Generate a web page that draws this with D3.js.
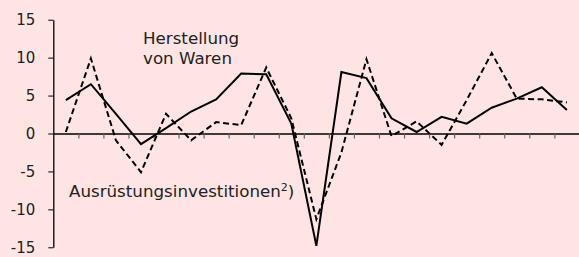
<!DOCTYPE html>
<html>
<head>
<meta charset="utf-8">
<script src="https://cdn.jsdelivr.net/npm/d3@7"></script>
<style>
    html, body { margin: 0; padding: 0; background: #ffe4e4; }
    #graph { width: 579px; height: 257px; }
    .axis text { font-family: "DejaVu Sans", sans-serif; font-size: 15px; fill: #222; }
    .lbl { font-family: "DejaVu Sans", sans-serif; font-size: 16.7px; fill: #222; }
</style>
</head>
<body>
<div id="graph"></div>
<script>
// periods (unlabelled on the chart)
var periods = d3.range(1, 22);

// Herstellung von Waren (solid)
var herstellung = [4.4, 6.5, 2.6, -1.4, 0.7, 2.9, 4.5, 7.9, 7.8, 1.3, -14.8,
    8.1, 7.3, 2.0, 0.2, 2.2, 1.3, 3.4, 4.6, 6.1, 3.1];

// Ausruestungsinvestitionen (dashed)
var ausruestung = [0.2, 9.9, -0.9, -5.1, 2.6, -0.9, 1.5, 1.1, 8.7, 2.0, -11.3,
    -2.5, 9.8, -0.35, 1.6, -1.5, 4.4, 10.6, 4.6, 4.5, 4.1];

var yTicks = [-15, -10, -5, 0, 5, 10, 15];

var width = 579, height = 257;
var padLeft = 53.3, padRight = 579.4, padTop = 19.7, padBottom = 247.3;

var svg = d3.select("#graph")
    .append("svg")
    .attr("width", width)
    .attr("height", height);

var x = d3.scaleBand().domain(periods).range([padLeft, padRight]);
var y = d3.scaleLinear().domain([-15, 15]).range([padBottom, padTop]);

// tick marks between periods on the zero line
var xEdge = d3.scaleLinear().domain([0, periods.length]).range([padLeft, padRight]);
var xAxis = d3.axisBottom(xEdge)
    .tickValues(d3.range(1, periods.length))
    .tickFormat("")
    .tickSizeInner(5)
    .tickSizeOuter(0);

var xAxisPlot = svg.append("g")
    .attr("class", "axis axis--x")
    .attr("transform", "translate(0," + y(0) + ")")
    .call(xAxis);
xAxisPlot.select(".domain").attr("stroke", "#000").attr("stroke-width", 1.3);
xAxisPlot.selectAll(".tick line").attr("stroke", "#666").attr("stroke-width", 1.2);

// plain hyphen as minus, like the original
var yAxis = d3.axisLeft(y)
    .tickValues(yTicks)
    .tickFormat(function(d) { return String(d); })
    .tickSizeInner(5)
    .tickSizeOuter(0)
    .tickPadding(13);

var yAxisPlot = svg.append("g")
    .attr("class", "axis axis--y")
    .attr("transform", "translate(" + padLeft + ",0)")
    .call(yAxis);
yAxisPlot.select(".domain").attr("stroke", "#000").attr("stroke-width", 1.3);
yAxisPlot.selectAll(".tick line").attr("stroke", "#000");

var line = d3.line()
    .x(function(d, i) { return x(periods[i]) + x.bandwidth() / 2; })
    .y(function(d) { return y(d); });

svg.append("path")
    .datum(ausruestung)
    .attr("fill", "none")
    .attr("stroke", "#000")
    .attr("stroke-width", 2)
    .attr("stroke-dasharray", "6,3.5")
    .attr("d", line);

svg.append("path")
    .datum(herstellung)
    .attr("fill", "none")
    .attr("stroke", "#000")
    .attr("stroke-width", 2)
    .attr("d", line);

// labels
svg.append("text").attr("class", "lbl").attr("x", 143).attr("y", 43.5).text("Herstellung");
svg.append("text").attr("class", "lbl").attr("x", 143).attr("y", 63.5).text("von Waren");

var aus = svg.append("text").attr("class", "lbl").attr("x", 69).attr("y", 197);
aus.append("tspan").text("Ausrüstungsinvestitionen");
aus.append("tspan").attr("font-size", "11px").attr("dy", -6).text("2");
aus.append("tspan").attr("dy", 6).text(")");
</script>
</body>
</html>
